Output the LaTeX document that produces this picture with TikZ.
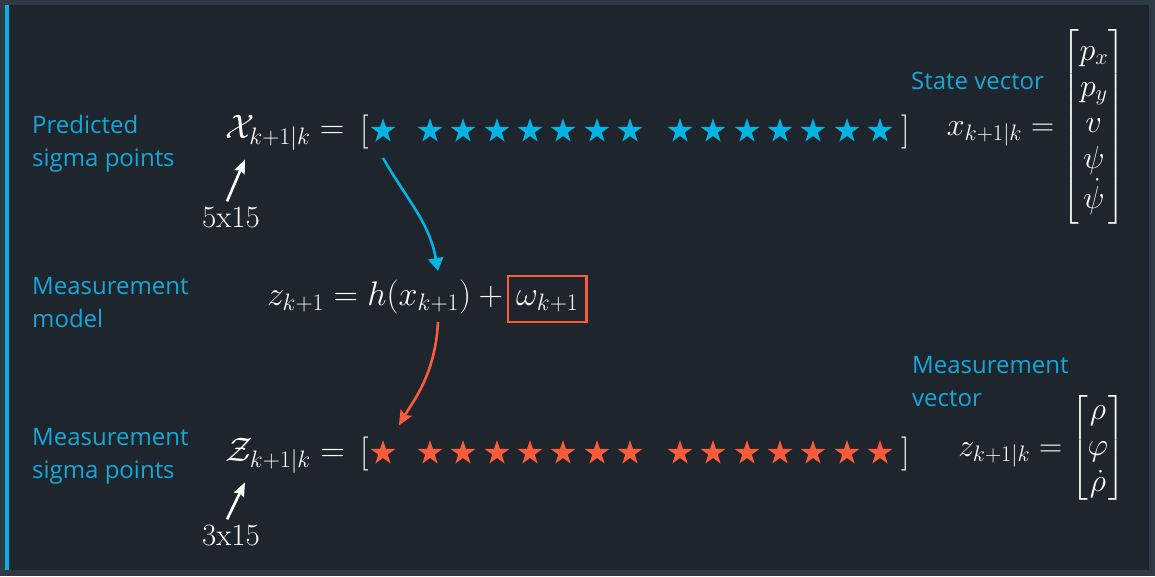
\RequirePackage{fix-cm}
\documentclass[tikz,border=0pt]{standalone}
\usepackage{amsmath}
\usepackage{fontspec}
\newfontfamily\labelfont{Open Sans}
\usetikzlibrary{arrows.meta,shapes.geometric,positioning}
\definecolor{bgdark}{HTML}{1E252C}
\definecolor{bgframe}{HTML}{2F3A44}
\definecolor{udblue}{HTML}{02B3E4}
\definecolor{udorange}{HTML}{F95C3C}
\definecolor{capblue}{HTML}{14A8D9}
\tikzset{%
  caption/.style  = {anchor=base west, align=left, inner sep=0pt,%
                     text=capblue, font=\labelfont\fontsize{24}{33}\selectfont},%
  formula/.style  = {anchor=base west, inner sep=0pt, text=white,%
                     font=\fontsize{34}{36}\selectfont},%
  dims/.style     = {formula, font=\fontsize{31}{36}\selectfont},%
  column/.style   = {formula, anchor=east, font=\fontsize{32}{36}\selectfont},%
  sigma/.style    = {star, star points=5, star point ratio=2.618,%
                     minimum size=26pt, inner sep=0pt, fill=#1},%
  flow/.style     = {draw=#1, line width=2.6pt},%
  pointer/.style  = {draw=white, line width=2.6pt,%
                     -{Stealth[length=14pt,width=11pt,inset=2pt]}}%
}
\begin{document}
\begin{tikzpicture}[x=1pt,y=1pt]
		\useasboundingbox (0,0) rectangle (1155,-576);
		\fill[bgframe] (0,0) rectangle (1155,-576);
		\fill[bgdark] (5,-5) rectangle (1149,-570);
		\fill[udblue] (5,-5) rectangle (9,-570);
		\node[caption] (predlbl) at (32,-166) {Predicted\\sigma points};
		\node[caption] (modellbl) at (32,-327) {Measurement\\model};
		\node[caption] (measlbl) at (32,-478) {Measurement\\sigma points};
		\node[caption] (statelbl) at (911,-89) {State vector};
		\node[caption] (zveclbl) at (912,-406) {Measurement\\vector};
		\node[formula] (xsig) at (225,-138) {$\mathcal{X}_{k+1|k} =$};
		\node[formula] (zsig) at (225,-461) {$\mathcal{Z}_{k+1|k} =$};
		\node[dims] (xdim) at (202,-227) {5x15};
		\node[dims] (zdim) at (202,-545) {3x15};
		\node[formula] (xlbr) at (360,-140) {$[$};
		\node[formula] (xrbr) at (901,-140) {$]$};
		\node[formula] (zlbr) at (360,-462) {$[$};
		\node[formula] (zrbr) at (901,-462) {$]$};
		\foreach \x [count=\i] in {383,430,463,497,530,563,597,630,680,713,747,780,813,847,880}{
			\node[sigma=udblue] (xs\i) at (\x,-131) {};
			\node[sigma=udorange] (zs\i) at (\x,-453) {};
		}
		\node[column] (xvec) at (1125,-127)
			{$x_{k+1|k} = \begin{bmatrix} p_x\\ p_y\\ v\\ \psi\\ \dot{\psi} \end{bmatrix}$};
		\node[column] (zvec) at (1125,-448)
			{$z_{k+1|k} = \begin{bmatrix} \rho\\ \varphi\\ \dot{\rho} \end{bmatrix}$};
		\node[formula] (model) at (267,-305) {$z_{k+1} = h(x_{k+1}) +{}$};
		\node[formula, draw=udorange, line width=2.5pt, inner xsep=8pt, inner ysep=5pt,
			text height=24pt, text depth=12pt, right=-4pt of model.base east, anchor=base west] (noise) {$\omega_{k+1}$};
		\coordinate (hxin) at (438,-271);
		\coordinate (hxout) at (438,-322);
		\draw[flow=udblue, -{Triangle[length=13pt,width=15pt]}] ([yshift=-27pt]xs1.center) to[out=-60,in=100] (hxin);
		\draw[flow=udorange, -{Stealth[length=15pt,width=13pt,inset=3pt]}, shorten >=26pt] (hxout) to[out=-93,in=60] (zs1);
		\draw[pointer] ([shift={(-4pt,5pt)}]xdim.north) -- ([shift={(20pt,-9pt)}]xsig.south west);
		\draw[pointer] ([shift={(-4pt,5pt)}]zdim.north) -- ([shift={(20pt,-9pt)}]zsig.south west);
\end{tikzpicture}
\end{document}
